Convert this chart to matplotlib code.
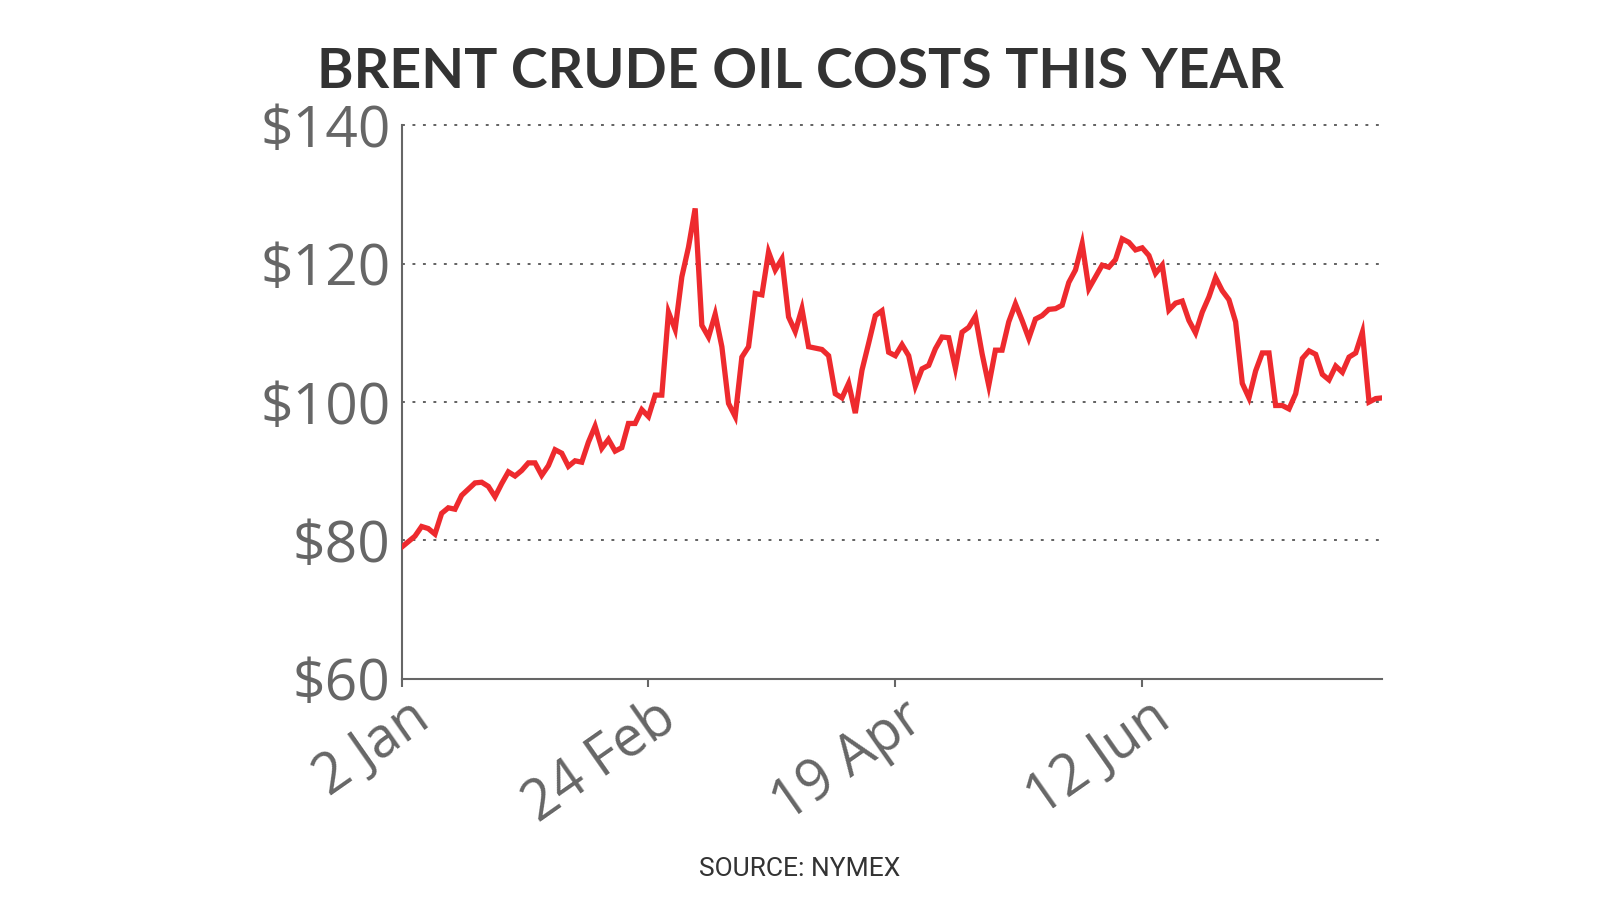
import matplotlib
matplotlib.use("Agg")
import matplotlib.pyplot as plt
import matplotlib.transforms as mtransforms
import numpy as np

# Brent crude daily closing prices (USD/barrel)
prices = [
    79.0, 79.8, 80.6, 82.0, 81.7, 80.9, 83.9, 84.7, 84.5, 86.5,
    87.4, 88.3, 88.4, 87.8, 86.3, 88.2, 89.9, 89.3, 90.1, 91.2,
    91.2, 89.4, 90.8, 93.1, 92.6, 90.7, 91.5, 91.3, 94.2, 96.5,
    93.3, 94.6, 92.9, 93.4, 96.9, 96.9, 98.9, 97.9, 101.0, 101.0,
    113.0, 110.5, 118.1, 122.4, 128.0, 111.1, 109.4, 112.7, 108.0, 99.8,
    97.9, 106.5, 108.0, 115.7, 115.5, 121.7, 119.1, 120.7, 112.3, 110.2,
    113.5, 108.0, 107.8, 107.6, 106.7, 101.2, 100.6, 102.7, 98.4, 104.6,
    108.5, 112.5,
    113.2, 107.2, 106.7, 108.3, 106.7, 102.3, 104.8, 105.3, 107.7, 109.4,
    109.3, 104.9, 110.1, 110.8, 112.4, 107.0, 102.4, 107.5, 107.5, 111.6,
    114.2, 111.8, 109.2, 112.0, 112.5, 113.4, 113.5, 114.0, 117.3, 119.1,
    122.9, 116.4, 118.1, 119.8, 119.5, 120.6, 123.6, 123.1, 122.0, 122.3,
    121.2, 118.6, 119.8, 113.3, 114.3, 114.6, 111.8, 110.0, 113.0, 115.2,
    118.0, 116.1, 114.8, 111.6, 102.7, 100.6, 104.5, 107.1, 107.1, 99.5,
    99.5, 99.0, 101.2, 106.3, 107.4, 106.9, 104.0, 103.2, 105.2, 104.3,
    106.5, 107.1, 110.1, 100.0, 100.5, 100.6,
]
tick_index = [0, 37, 74, 111]
tick_labels = ["2 Jan", "24 Feb", "19 Apr", "12 Jun"]
y_ticks = [60, 80, 100, 120, 140]
y_labels = ["$60", "$80", "$100", "$120", "$140"]

title = "BRENT CRUDE OIL COSTS THIS YEAR"
source = "SOURCE: NYMEX"

FONT = ["Open Sans", "DejaVu Sans"]
GREY = "#666666"
DARK = "#333333"
RED = "#ee2a2e"

fig = plt.figure(figsize=(16, 9), dpi=100)
ax = fig.add_axes([0.251, 0.246, 0.613, 0.6146])

x = np.arange(len(prices))
ax.plot(x, prices, color=RED, lw=3.8, solid_joinstyle="miter", zorder=3)

ax.set_xlim(0, len(prices) - 1)
ax.set_ylim(60, 140)

for v in y_ticks[1:]:
    ax.plot([0, len(prices) - 1.5], [v, v], color="#555555", lw=1.3,
            linestyle=(0, (1.6, 4.2)), zorder=1, clip_on=False)

for s in ["top", "right"]:
    ax.spines[s].set_visible(False)
for s in ["left", "bottom"]:
    ax.spines[s].set_color(GREY)
    ax.spines[s].set_linewidth(1.5)

ax.set_yticks(y_ticks)
ax.set_yticklabels(y_labels)
ax.tick_params(axis="y", length=0, pad=8, labelsize=41, labelcolor=GREY)
for lab in ax.get_yticklabels():
    lab.set_fontfamily(FONT)

ax.set_xticks(tick_index)
ax.set_xticklabels(tick_labels)
ax.tick_params(axis="x", length=6, width=1.5, color=GREY, pad=2,
               labelsize=40, labelcolor=GREY)
offset = mtransforms.ScaledTranslation(0.06, 0.0, fig.dpi_scale_trans)
for lab in ax.get_xticklabels():
    lab.set_fontfamily(FONT)
    lab.set_rotation(35)
    lab.set_ha("right")
    lab.set_va("top")
    lab.set_rotation_mode("anchor")
    lab.set_transform(lab.get_transform() + offset)

fig.text(0.5, 0.92, title, ha="center", va="center", fontsize=40,
         fontweight="bold", color=DARK, family=["Lato", "DejaVu Sans"])
fig.text(0.5, 0.034, source, ha="center", va="center", fontsize=19,
         color=DARK, family=["Roboto", "DejaVu Sans"], fontstretch="condensed")

fig.savefig("out.png", dpi=100, facecolor="white")
